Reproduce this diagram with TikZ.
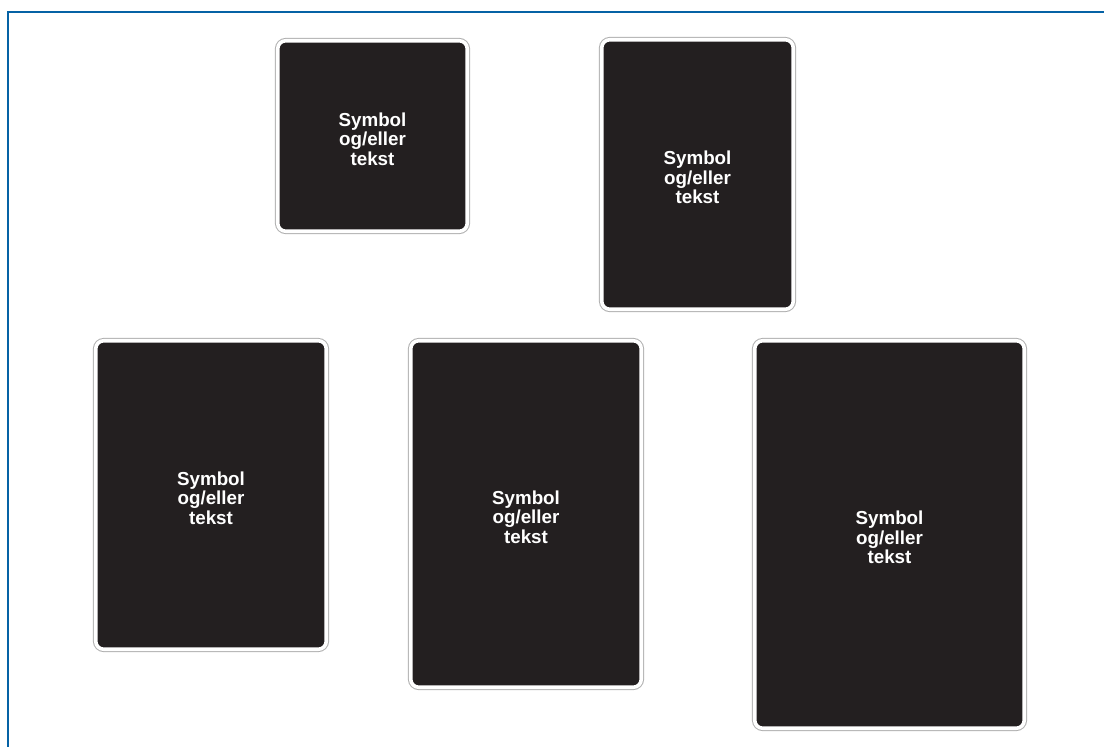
\documentclass[tikz,border=0pt]{standalone}
\usepackage{fontspec}
\usepackage{xcolor}
\newfontfamily\signfont{Liberation Sans}
\definecolor{frameblue}{RGB}{5,98,165}
\definecolor{signdark}{RGB}{35,31,32}
\definecolor{rimgray}{RGB}{175,175,175}
\tikzset{
  signbox/.style={rectangle, rounded corners=8pt, inner sep=0pt,
    preaction={draw=rimgray, line width=5.6pt},
    fill=signdark, draw=white, line width=3.6pt,
    text=white,
    font=\signfont\bfseries\fontsize{18.8}{19.5}\selectfont}
}
\newcommand{\signtxt}{\raisebox{-3pt}[\dimexpr\height+3pt\relax][\dimexpr\depth-3pt\relax]{\begin{tabular}{@{}c@{}}Symbol\\og/eller\\tekst\end{tabular}}}

\begin{document}
\begin{tikzpicture}[x=1pt,y=-1pt]
  \useasboundingbox (0,0) rectangle (1104,747);

  % ramme
  \draw[frameblue,line width=2.2pt] (8,747) -- (8,12.3) -- (1104,12.3);

  % skilt, øverste rad
  \node[signbox,minimum width=189.5pt,minimum height=190.5pt] (skiltA) at (372.5,136) {\signtxt};
  \node[signbox,minimum width=191.5pt,minimum height=269.5pt] (skiltB) at (697.5,174.5) {\signtxt};

  % skilt, nederste rad
  \node[signbox,minimum width=230.5pt,minimum height=308.5pt] (skiltC) at (211,495) {\signtxt};
  \node[signbox,minimum width=230.5pt,minimum height=346.5pt] (skiltD) at (526,514) {\signtxt};
  \node[signbox,minimum width=269.5pt,minimum height=387.5pt] (skiltE) at (889.5,534.5) {\signtxt};
\end{tikzpicture}
\end{document}
